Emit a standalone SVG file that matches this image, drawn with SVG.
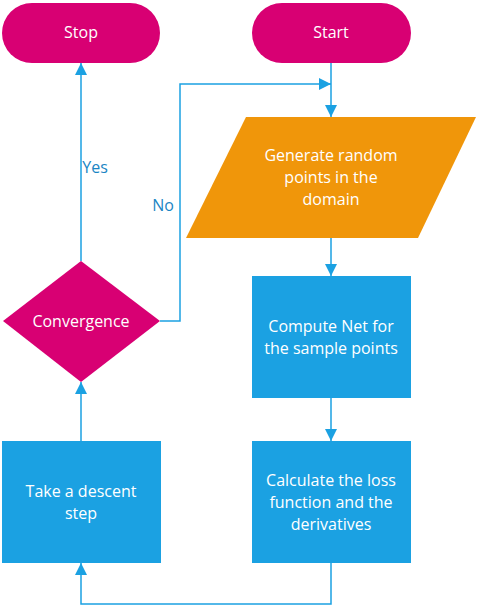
<svg xmlns="http://www.w3.org/2000/svg" width="478" height="606" viewBox="0 0 478 606">
<style>
.t{font-family:"Open Sans","Noto Sans",sans-serif;font-size:16px;fill:#ffffff;text-anchor:middle}
.l{font-family:"Open Sans","Noto Sans",sans-serif;font-size:16px;fill:#1a85c4;text-anchor:middle}
.c{fill:none;stroke:#1ba1e2;stroke-width:1.5}
.m{fill:#d80073}
.b{fill:#1ba1e2}
.o{fill:#f0960a}
</style>
<defs>
<marker id="ah" viewBox="0 0 12 12" refX="12" refY="6" markerWidth="12" markerHeight="12" markerUnits="userSpaceOnUse" orient="auto">
<path d="M0,0 L12,6 L0,12 z" fill="#1ba1e2"/>
</marker>
</defs>
<g id="connectors">
<path class="c" d="M331,63 V117" marker-end="url(#ah)"/>
<path class="c" d="M160,321 H180 V84 H331" marker-end="url(#ah)"/>
<path class="c" d="M331,238 V276" marker-end="url(#ah)"/>
<path class="c" d="M331,398 V441" marker-end="url(#ah)"/>
<path class="c" d="M331,563 V604 H81 V563" marker-end="url(#ah)"/>
<path class="c" d="M81,441 V382" marker-end="url(#ah)"/>
<path class="c" d="M81,261 V63" marker-end="url(#ah)"/>
<text class="l" x="95" y="173">Yes</text>
<text class="l" x="163" y="211">No</text>
</g>
<g id="stop">
<rect class="m" x="2" y="3" width="158" height="60" rx="30"/>
<text class="t" x="81" y="38">Stop</text>
</g>
<g id="start">
<rect class="m" x="252" y="3" width="159" height="60" rx="30"/>
<text class="t" x="331" y="38">Start</text>
</g>
<g id="generate">
<polygon class="o" points="246,117 476,117 418,238 186,238"/>
<text class="t" x="331" y="161">Generate random</text>
<text class="t" x="331" y="183">points in the</text>
<text class="t" x="331" y="205">domain</text>
</g>
<g id="compute">
<rect class="b" x="252" y="276" width="159" height="122"/>
<text class="t" x="331" y="332">Compute Net for</text>
<text class="t" x="331" y="354">the sample points</text>
</g>
<g id="calculate">
<rect class="b" x="252" y="441" width="159" height="122"/>
<text class="t" x="331" y="486">Calculate the loss</text>
<text class="t" x="331" y="508">function and the</text>
<text class="t" x="331" y="530">derivatives</text>
</g>
<g id="descent">
<rect class="b" x="2" y="441" width="159" height="122"/>
<text class="t" x="81" y="497">Take a descent</text>
<text class="t" x="81" y="519">step</text>
</g>
<g id="convergence">
<polygon class="m" points="81,261 160,321 81,382 3,321"/>
<text class="t" x="81" y="327">Convergence</text>
</g>
</svg>
